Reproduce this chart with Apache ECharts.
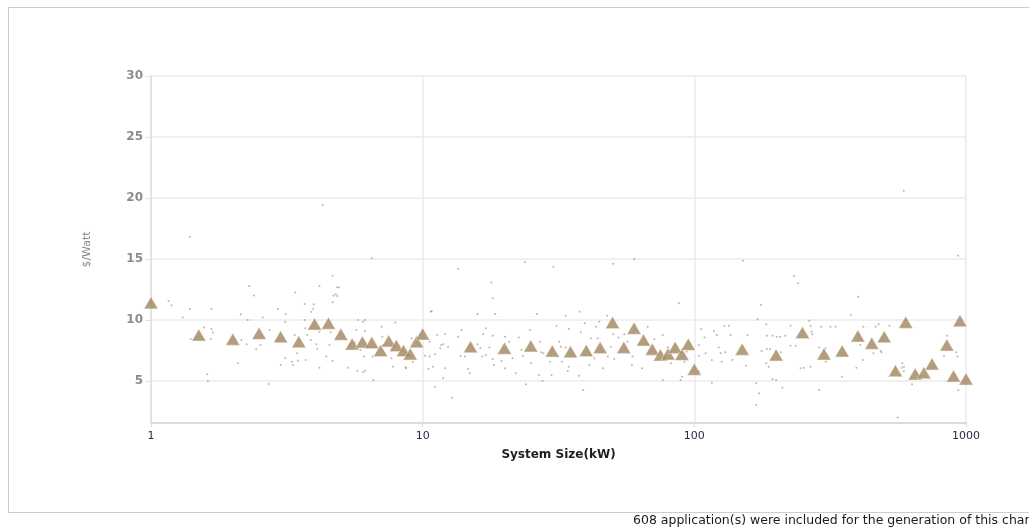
<!DOCTYPE html>
<html>
<head>
<meta charset="utf-8">
<script src="https://cdn.jsdelivr.net/npm/echarts@6/dist/echarts.min.js"></script>
<style>
  html, body { margin: 0; padding: 0; background: #fff; overflow: hidden; width: 1029px; height: 529px; }
  #frame { position: absolute; left: 8px; top: 7px; width: 1100px; height: 506px; border: 1px solid #cdcdcd; box-sizing: border-box; }
  #chart { position: absolute; left: 0; top: 0; width: 1029px; height: 529px; }
</style>
</head>
<body>
<div id="frame"></div>
<div id="chart"></div>
<script>
// Average price per system-size bin (kW, $/Watt)
const avgSize = [1, 1.5, 2, 2.5, 3, 3.5, 4, 4.5, 5, 5.5, 6, 6.5, 7, 7.5, 8, 8.5, 9, 9.5, 10,
  15, 20, 25, 30, 35, 40, 45, 50, 55, 60, 65, 70, 75, 80, 85, 90, 95, 100,
  150, 200, 250, 300, 350, 400, 450, 500, 550, 600, 650, 700, 750, 850, 900, 950, 1000];
const avgPrice = [11.4, 8.77, 8.42, 8.9, 8.63, 8.22, 9.67, 9.73, 8.83, 8.03, 8.2, 8.14, 7.49, 8.28, 7.9, 7.49, 7.21, 8.22, 8.85,
  7.81, 7.68, 7.87, 7.46, 7.4, 7.49, 7.73, 9.78, 7.75, 9.32, 8.36, 7.6, 7.13, 7.21, 7.75, 7.18, 8.0, 5.96,
  7.6, 7.13, 8.96, 7.21, 7.46, 8.69, 8.09, 8.63, 5.84, 9.81, 5.57, 5.66, 6.39, 7.95, 5.41, 9.94, 5.16];

// Individual applications (kW, $/Watt)
const appSize = [
  1.16, 1.19, 1.39, 1.67, 1.31, 1.57, 1.67, 1.69, 1.40, 1.66, 1.61, 1.62, 2.09, 2.14, 2.27, 2.39, 2.15, 2.25, 2.44, 2.53,
  2.58, 2.71, 2.73, 2.93, 3.13, 3.12, 3.0, 3.12, 3.3, 3.33, 3.47, 3.45, 3.38, 3.68, 3.7, 3.76, 3.89, 3.97, 3.87, 3.71,
  4.06, 4.09, 4.17, 4.17, 4.42, 4.54, 4.58, 4.66, 4.7, 4.66, 5.3, 5.38, 2.3, 3.4, 4.17, 4.85, 4.85, 3.68, 3.95, 5.79,
  6.04, 5.75, 6.13, 6.58, 7.1, 8.66, 9.2, 10.7, 11.1, 11.7, 11.9, 1.39, 4.28, 6.49, 4.66, 4.92, 4.79, 13.5, 17.9, 18.1,
  23.8, 30.3, 590, 936, 60.1, 50.3, 151, 233, 241, 401,
  10.8, 15.9, 18.5, 26.3, 6.13, 7.94, 7.07, 5.7, 6.13, 9.1, 11.3, 12.1, 10.6, 11.9, 12.4, 11.6, 10.6, 11.1, 10.2, 10.9,
  12.1, 10.5, 12.8, 13.5, 13.9, 13.8, 14.3, 14.7, 14.9, 16.7, 17.1, 15.9, 16.3, 16.6, 17.1, 17.6, 18.1, 18.3, 18.1, 19.5,
  20.1, 20.8, 21.4, 22, 20.1, 22.6, 23.1, 23.4, 24, 24.8, 25.1, 27.0, 27.3, 27.8, 26.8, 27.6, 29.4, 29.8, 6.04, 6.08,
  5.9, 6.54, 7.68, 7.78, 8.68, 7.14, 5.63,
  87.7, 47.7, 37.8, 33.6, 31.1, 34.5, 39.5, 43.5, 44.7, 44.1, 41.6, 38.2, 31.8, 32.3, 33.6, 31.3, 32.6, 34.5, 34.2, 37.6,
  39.0, 41.1, 42.9, 46.1, 48, 49.3, 50.3, 50.7, 52.6, 55.2, 56.8, 59.2, 58.9, 64.2, 67.3, 71.2, 76.5, 79.9, 82.1, 76.5,
  89, 90.2, 92, 93.8, 104, 106, 109, 110, 118, 121, 123, 125, 116, 116, 126, 130, 129, 134, 136, 138,
  157, 155, 169, 169, 104, 104,
  377, 176, 171, 265, 268, 184, 226, 293, 317, 331, 185, 194, 201, 207, 216, 270, 272, 226, 236, 177,
  185, 190, 208, 288, 304, 305, 184, 188, 246, 253, 268, 194, 200, 211, 173, 288, 349, 395, 417, 419,
  408, 456, 465, 477, 485, 489, 523, 560, 583, 591, 580, 591, 633, 853, 830, 920, 930, 936
];
const appPrice = [
  11.56, 11.2, 10.9, 10.9, 10.2, 9.37, 9.26, 8.96, 8.44, 8.44, 5.55, 5.0, 6.45, 10.47, 10.0, 12.0, 8.36, 8.0, 7.6, 7.95,
  10.2, 4.75, 9.18, 10.9, 10.47, 9.86, 6.31, 6.86, 6.58, 6.31, 6.66, 7.27, 8.77, 10.0, 9.32, 8.77, 10.68, 11.29, 8.36, 6.72,
  8.0, 7.62, 6.09, 9.04, 7.0, 7.95, 8.99, 11.45, 12.0, 6.64, 6.09, 7.95, 12.79, 12.24, 12.79, 12.68, 11.97, 11.3, 10.9, 10.0,
  9.86, 5.84, 5.84, 5.08, 8.63, 6.12, 6.58, 10.68, 4.53, 7.95, 5.22, 16.83, 19.43, 15.06, 13.63, 12.65, 12.1, 14.2, 13.06, 11.78,
  14.73, 14.37, 20.6, 15.27, 14.98, 14.6, 14.86, 13.6, 13.0, 11.9,
  10.74, 10.49, 10.49, 10.49, 10.0, 9.78, 9.45, 9.18, 9.1, 8.5, 8.77, 8.83, 8.22, 8.0, 7.81, 7.68, 7.0, 7.19, 7.07, 6.17,
  6.04, 5.98, 3.63, 8.63, 9.18, 7.05, 7.0, 5.98, 5.63, 8.83, 9.32, 8.0, 7.68, 7.0, 7.13, 7.73, 8.71, 6.31, 6.8, 6.64,
  8.63, 8.22, 6.86, 5.63, 6.04, 8.55, 7.54, 7.07, 4.73, 9.18, 6.45, 8.22, 7.35, 7.27, 5.49, 5.0, 6.58, 5.49, 5.71, 7.0,
  7.54, 7.0, 6.86, 6.17, 6.04, 7.95, 8.14,
  11.37, 10.35, 10.68, 10.35, 9.53, 9.26, 9.73, 9.45, 9.86, 8.5, 8.5, 8.99, 8.22, 7.81, 7.73, 7.0, 6.58, 6.17, 5.82, 5.43,
  4.26, 6.31, 6.86, 6.04, 7.0, 7.81, 8.83, 6.8, 8.55, 8.83, 8.22, 7.0, 6.31, 6.04, 9.45, 8.44, 8.77, 7.73, 6.45, 5.08,
  5.08, 5.35, 6.58, 7.4, 7.95, 9.26, 8.55, 7.27, 9.1, 8.77, 7.73, 7.27, 4.86, 6.72, 6.58, 7.35, 9.53, 9.53, 8.77, 6.72,
  8.77, 6.25, 4.81, 3.03, 7.07, 5.82,
  10.41, 11.23, 10.06, 9.94, 9.53, 9.65, 9.53, 9.45, 9.45, 9.45, 8.71, 8.71, 8.63, 8.63, 8.71, 9.04, 8.83, 7.89, 7.89, 7.46,
  7.62, 7.62, 7.35, 7.73, 7.68, 6.58, 6.45, 6.17, 6.04, 6.09, 6.17, 5.16, 5.08, 4.45, 3.99, 4.26, 5.35, 6.09, 6.72, 9.45,
  7.95, 7.27, 9.45, 9.65, 7.46, 7.35, 9.53, 2.0, 6.45, 6.17, 6.09, 5.82, 4.73, 8.71, 7.07, 7.35, 7.0, 4.26
];

const applicationCount = 608;
const footnote = applicationCount + ' application(s) were included for the generation of this chart';

const appData = appSize.map((s, i) => [s, appPrice[i]]);
const avgData = avgSize.map((s, i) => [s, avgPrice[i]]);

const chart = echarts.init(document.getElementById('chart'), null, { renderer: 'canvas' });
const baseFont = 'DejaVu Sans';

chart.setOption({
  animation: false,
  grid: { left: 151, right: 63, top: 76, bottom: 106, containLabel: false },
  xAxis: {
    type: 'log',
    logBase: 10,
    min: 1,
    max: 1000,
    name: 'System Size(kW)',
    nameLocation: 'middle',
    nameGap: 26,
    nameTextStyle: { color: '#1e1e1e', fontFamily: baseFont, fontSize: 12, fontWeight: 'bold' },
    axisLine: { show: true, lineStyle: { color: '#dcdcdc', width: 2 } },
    axisTick: { show: true, length: 4, lineStyle: { color: '#dcdcdc' } },
    axisLabel: {
      color: '#2a2a4a', fontFamily: baseFont, fontSize: 11, margin: 8,
      formatter: v => String(Math.round(v))
    },
    splitLine: { show: true, lineStyle: { color: '#ebebeb', width: 1.5 } }
  },
  yAxis: {
    type: 'value',
    min: 1.55,
    max: 30,
    splitNumber: 6,
    name: '$/Watt',
    nameLocation: 'middle',
    nameGap: 58,
    nameTextStyle: { color: '#8a8a8a', fontFamily: baseFont, fontSize: 11 },
    axisLine: { show: true, lineStyle: { color: '#e2e2e2', width: 2 } },
    axisTick: { show: true, length: 6, lineStyle: { color: '#e2e2e2' } },
    axisLabel: { color: '#8c8c8c', fontFamily: baseFont, fontSize: 12, fontWeight: 'bold', margin: 8, showMinLabel: false },
    splitLine: { show: true, lineStyle: { color: '#ebebeb', width: 1.5 } }
  },
  graphic: [{
    type: 'text',
    left: 633,
    top: 514,
    style: { text: footnote, fill: '#1a1a1a', fontSize: 12.5, fontFamily: baseFont }
  }],
  series: [
    {
      type: 'scatter',
      data: appData,
      symbol: 'circle',
      symbolSize: 2,
      itemStyle: { color: '#8f8f8f', opacity: 0.65 },
      silent: true,
      z: 2
    },
    {
      type: 'scatter',
      data: avgData,
      symbol: 'triangle',
      symbolSize: [14, 12],
      itemStyle: { color: '#a0855f', borderColor: 'rgba(245,236,220,0.8)', borderWidth: 0.8 },
      z: 3
    }
  ]
});
</script>
</body>
</html>
